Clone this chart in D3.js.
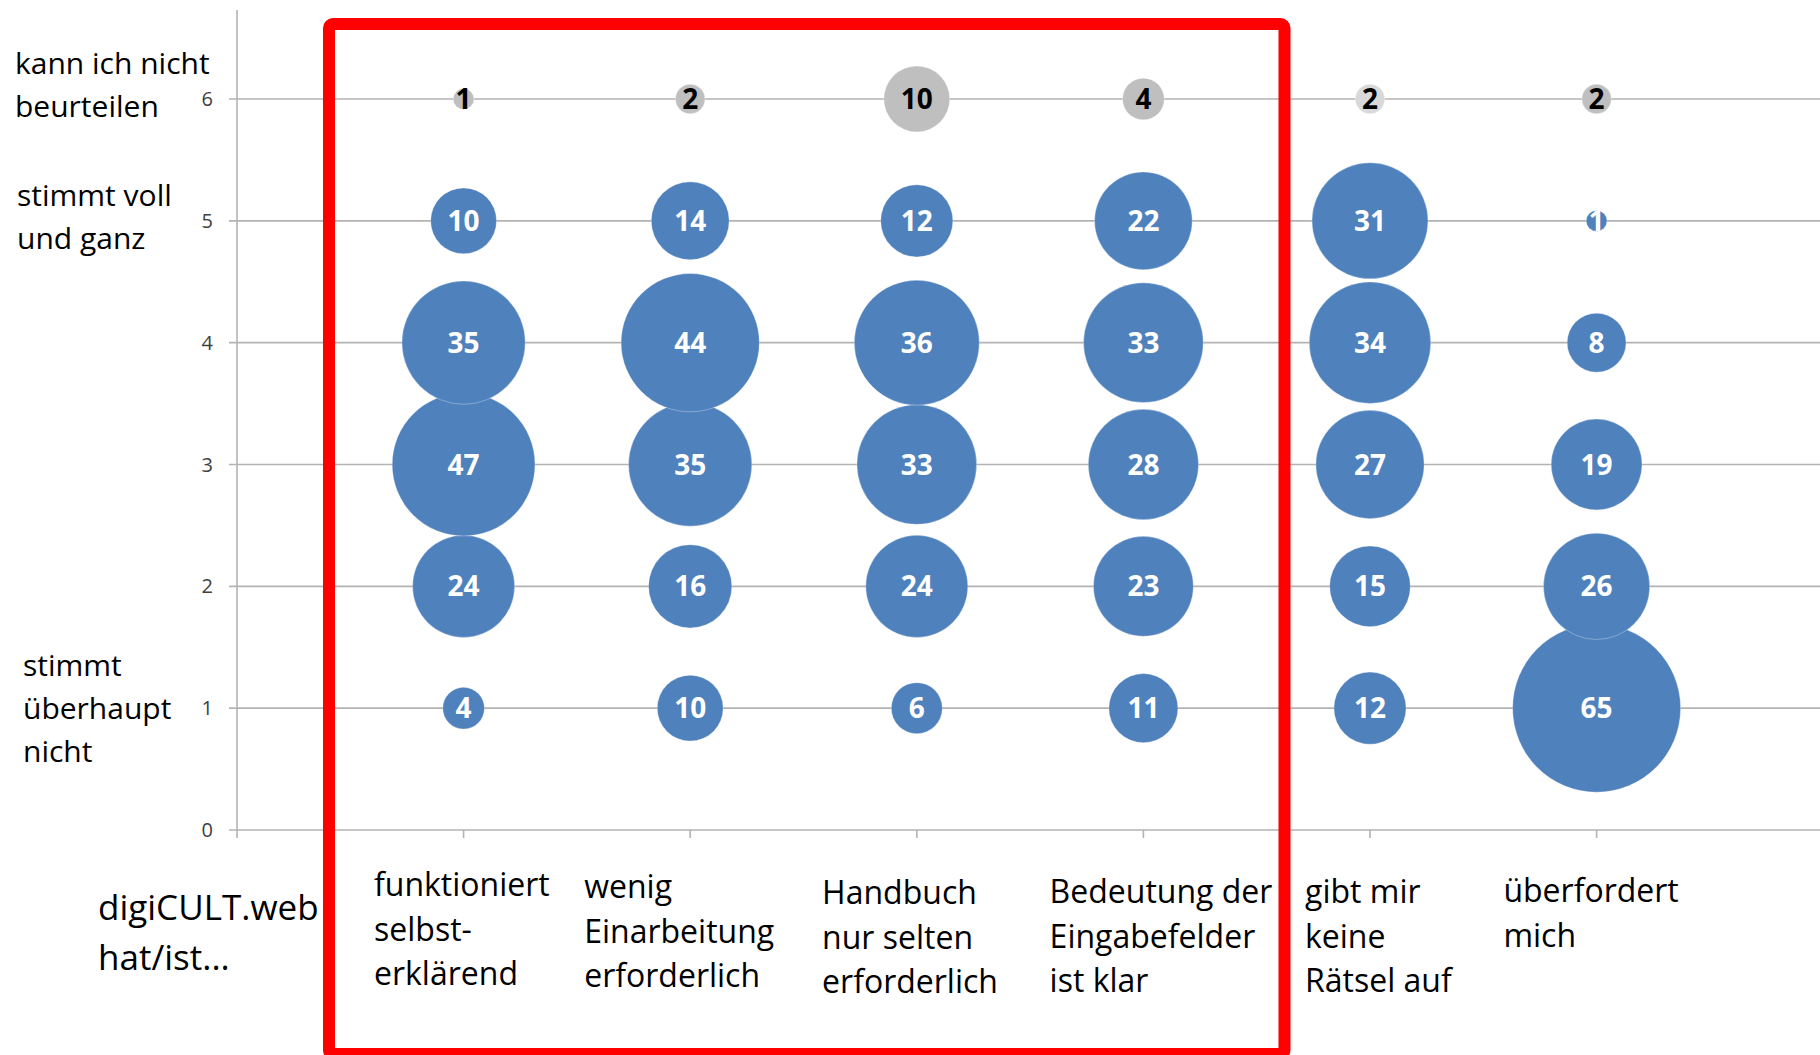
<!DOCTYPE html>
<html>
<head>
<meta charset="utf-8">
<script src="https://cdn.jsdelivr.net/npm/d3@7"></script>
<style>
  html, body { margin: 0; padding: 0; background: #fff; }
  svg { display: block; font-family: "Open Sans", sans-serif; }
</style>
</head>
<body>
<svg id="chart" width="1820" height="1055"></svg>
<script>
// Survey statements (x = 1..6)
const categories = [
  ["funktioniert", "selbst-", "erklärend"],
  ["wenig", "Einarbeitung", "erforderlich"],
  ["Handbuch", "nur selten", "erforderlich"],
  ["Bedeutung der", "Eingabefelder", "ist klar"],
  ["gibt mir", "keine", "Rätsel auf"],
  ["überfordert", "mich"]
];

// Answer levels (y = 1..6)
const levels = [1, 2, 3, 4, 5, 6];
const levelLabels = [
  { level: 6, lines: ["kann ich nicht", "beurteilen"] },
  { level: 5, lines: ["stimmt voll", "und ganz"] },
  { level: 1, lines: ["stimmt", "überhaupt", "nicht"] }
];
const yTicks = [0, 1, 2, 3, 4, 5, 6];

// Number of answers per statement, one array per level 1..5
const counts1 = [4, 10, 6, 11, 12, 65];
const counts2 = [24, 16, 24, 23, 15, 26];
const counts3 = [47, 35, 33, 28, 27, 19];
const counts4 = [35, 44, 36, 33, 34, 8];
const counts5 = [10, 14, 12, 22, 31, 1];
// "kann ich nicht beurteilen"
const countsNA = [1, 2, 10, 4, 2, 2];

const axisTitle = ["digiCULT.web", "hat/ist..."];

// ---- layout ----
const W = 1820, H = 1055;
const x = d3.scaleLinear().domain([0, 7]).range([237, 237 + 7 * 226.6]);
const y = d3.scaleLinear().domain([0, 6]).range([830, 99]);
const r = d3.scaleSqrt().domain([0, 65]).range([0, 84]);

const blue = "#4f81bd";
const greyFills = ["#bfbfbf", "#bfbfbf", "#bfbfbf", "#bfbfbf", "#d9d9d9", "#bfbfbf"];
const gridColor = "#b3b3b3";

const svg = d3.select("#chart");

// gridlines (with left tick stubs)
svg.append("g").selectAll("line")
  .data(yTicks)
  .join("line")
  .attr("x1", x(0) - 8).attr("x2", W)
  .attr("y1", d => y(d)).attr("y2", d => y(d))
  .attr("stroke", gridColor).attr("stroke-width", 1.6);

// y-axis line
svg.append("line")
  .attr("x1", x(0)).attr("x2", x(0))
  .attr("y1", 10).attr("y2", y(0) + 8)
  .attr("stroke", gridColor).attr("stroke-width", 1.6);

// x-axis tick marks
svg.append("g").selectAll("line")
  .data(d3.range(1, 7))
  .join("line")
  .attr("x1", d => x(d)).attr("x2", d => x(d))
  .attr("y1", y(0)).attr("y2", y(0) + 8)
  .attr("stroke", gridColor).attr("stroke-width", 1.6);

// y tick labels
svg.append("g").selectAll("text")
  .data(yTicks)
  .join("text")
  .attr("x", 213).attr("y", d => y(d))
  .attr("dy", "0.35em")
  .attr("text-anchor", "end")
  .attr("font-size", 20)
  .attr("fill", "#404040")
  .text(d => d);

// bubble records
const rows = [counts1, counts2, counts3, counts4, counts5];
const bubbles = [];
rows.forEach((arr, li) => arr.forEach((v, ci) =>
  bubbles.push({ cat: ci + 1, level: levels[li], value: v, fill: blue, text: "#fff" })));
countsNA.forEach((v, ci) =>
  bubbles.push({ cat: ci + 1, level: 6, value: v, fill: greyFills[ci], text: "#000" }));

const g = svg.append("g");
g.selectAll("circle")
  .data(bubbles)
  .join("circle")
  .attr("cx", d => x(d.cat))
  .attr("cy", d => y(d.level))
  .attr("r", d => r(d.value))
  .attr("fill", d => d.fill)
  .attr("stroke", "#fff")
  .attr("stroke-opacity", 0.3)
  .attr("stroke-width", 1);

g.selectAll("text")
  .data(bubbles)
  .join("text")
  .attr("x", d => x(d.cat))
  .attr("y", d => y(d.level))
  .attr("dy", "0.36em")
  .attr("text-anchor", "middle")
  .attr("font-size", 28)
  .attr("font-weight", 700)
  .attr("fill", d => d.text)
  .text(d => d.value);

// level labels on the left
const lvl = svg.append("g").attr("font-size", 30).attr("fill", "#000");
const lvlPos = { 6: { x: 15, y: 74 }, 5: { x: 17, y: 206 }, 1: { x: 23, y: 676 } };
levelLabels.forEach(L => {
  const t = lvl.append("text").attr("x", lvlPos[L.level].x).attr("y", lvlPos[L.level].y);
  L.lines.forEach((s, i) => t.append("tspan")
    .attr("x", lvlPos[L.level].x).attr("dy", i ? 43 : 0).text(s));
});

// category labels below the axis
const catPos = [
  { dx: -89.6, y: 896 }, { dx: -106, y: 898 }, { dx: -94.7, y: 904 },
  { dx: -93.8, y: 903 }, { dx: -65, y: 903 }, { dx: -93.2, y: 902 }
];
const cl = svg.append("g").attr("font-size", 32).attr("fill", "#000");
categories.forEach((lines, i) => {
  const px = x(i + 1) + catPos[i].dx;
  const t = cl.append("text").attr("x", px).attr("y", catPos[i].y);
  lines.forEach((s, k) => t.append("tspan").attr("x", px).attr("dy", k ? 44.5 : 0).text(s));
});

// axis caption
const cap = svg.append("text").attr("x", 98).attr("y", 920)
  .attr("font-size", 35).attr("fill", "#000");
axisTitle.forEach((s, k) => cap.append("tspan").attr("x", 98).attr("dy", k ? 50 : 0).text(s));

// highlight frame around statements 1-4
svg.append("rect")
  .attr("x", 329).attr("y", 24)
  .attr("width", 1284.5 - 329).attr("height", 1054 - 24)
  .attr("rx", 4)
  .attr("fill", "none")
  .attr("stroke", "#ff0000")
  .attr("stroke-width", 12);
</script>
</body>
</html>
